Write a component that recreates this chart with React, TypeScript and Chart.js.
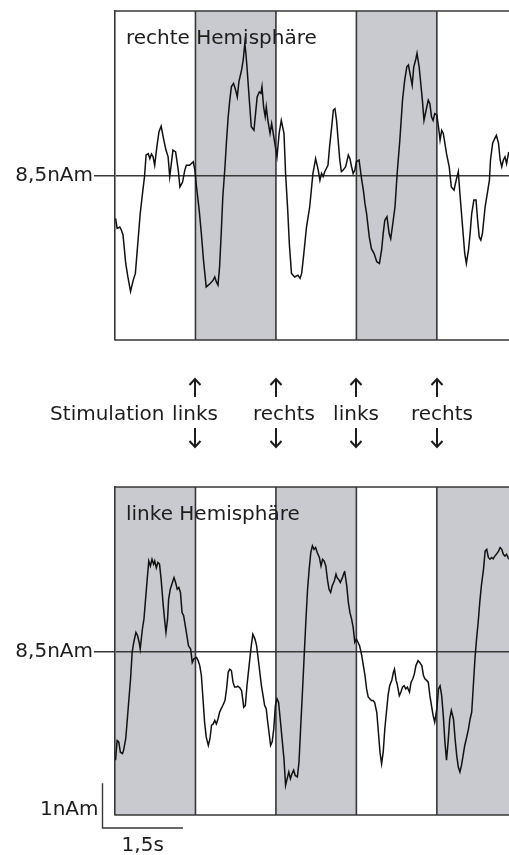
import { useEffect, useRef } from 'react';
import { Chart, registerables } from 'chart.js';

Chart.register(...registerables);

// Dipole strength over time (s) in the right hemisphere (nAm)
const rightTime = [
  0.01, 0.04, 0.09, 0.12, 0.15, 0.20, 0.24, 0.29, 0.34, 0.38,
  0.43, 0.47, 0.52, 0.55, 0.58, 0.62, 0.65, 0.68, 0.71, 0.74,
  0.78, 0.82, 0.86, 0.91, 0.95, 0.99, 1.02, 1.05, 1.08, 1.13,
  1.18, 1.21, 1.26, 1.30, 1.33, 1.39, 1.46, 1.49, 1.52, 1.57,
  1.61, 1.65, 1.70, 1.77, 1.83, 1.86, 1.89, 1.92, 1.95, 1.98,
  2.01, 2.05, 2.08, 2.11, 2.14, 2.17, 2.21, 2.25, 2.28, 2.31,
  2.36, 2.39, 2.42, 2.44, 2.46, 2.50, 2.54, 2.59, 2.62, 2.65,
  2.69, 2.72, 2.74, 2.77, 2.80, 2.82, 2.85, 2.89, 2.92, 2.95,
  2.99, 3.02, 3.06, 3.10, 3.15, 3.18, 3.22, 3.25, 3.29, 3.35,
  3.41, 3.45, 3.48, 3.52, 3.57, 3.63, 3.69, 3.74, 3.79, 3.82,
  3.85, 3.88, 3.91, 3.94, 3.97, 4.00, 4.04, 4.07, 4.10, 4.13,
  4.16, 4.19, 4.22, 4.25, 4.30, 4.35, 4.38, 4.41, 4.44, 4.47,
  4.50, 4.55, 4.60, 4.63, 4.66, 4.69, 4.74, 4.78, 4.83, 4.88,
  4.93, 4.97, 5.00, 5.03, 5.07, 5.11, 5.14, 5.17, 5.22, 5.26,
  5.31, 5.36, 5.40, 5.44, 5.47, 5.51, 5.54, 5.57, 5.61, 5.63,
  5.67, 5.70, 5.73, 5.76, 5.80, 5.84, 5.87, 5.90, 5.93, 5.96,
  6.00, 6.03, 6.06, 6.09, 6.12, 6.15, 6.18, 6.23, 6.27, 6.32,
  6.36, 6.40, 6.43, 6.48, 6.52, 6.55, 6.59, 6.62, 6.65, 6.69,
  6.73, 6.76, 6.79, 6.82, 6.85, 6.90, 6.94, 6.98, 7.00, 7.04,
  7.08, 7.11, 7.15, 7.18, 7.21, 7.24, 7.27, 7.30, 7.34,
];
const rightAmp = [
  7.56, 7.34, 7.37, 7.30, 7.19, 6.56, 6.26, 5.94, 6.19, 6.34,
  7.08, 7.67, 8.19, 8.49, 8.97, 9.00, 8.89, 8.99, 8.93, 8.74,
  9.15, 9.49, 9.61, 9.30, 9.08, 8.93, 8.49, 8.78, 9.08, 9.04,
  8.63, 8.26, 8.37, 8.63, 8.74, 8.74, 8.82, 8.63, 8.26, 7.74,
  7.22, 6.63, 6.04, 6.11, 6.19, 6.26, 6.15, 6.08, 6.49, 7.23,
  8.04, 8.71, 9.30, 9.82, 10.19, 10.49, 10.56, 10.41, 10.26, 10.60,
  10.86, 11.08, 11.45, 11.23, 10.93, 10.26, 9.60, 9.52, 9.89, 10.26,
  10.37, 10.34, 10.49, 10.04, 9.82, 10.04, 9.74, 9.45, 9.67, 9.45,
  9.15, 8.93, 9.45, 9.74, 9.45, 8.56, 7.74, 7.00, 6.34, 6.26,
  6.30, 6.23, 6.34, 6.78, 7.37, 7.82, 8.56, 8.89, 8.63, 8.41,
  8.56, 8.49, 8.60, 8.67, 8.74, 9.15, 9.60, 9.97, 10.00, 9.74,
  9.30, 8.86, 8.60, 8.63, 8.71, 8.97, 8.89, 8.71, 8.56, 8.63,
  8.82, 8.86, 8.41, 8.19, 7.89, 7.67, 7.15, 6.89, 6.78, 6.60,
  6.56, 6.86, 7.23, 7.52, 7.60, 7.23, 7.11, 7.37, 7.82, 8.56,
  9.30, 10.19, 10.63, 10.93, 10.97, 10.71, 10.52, 10.93, 11.11, 11.23,
  10.93, 10.56, 10.19, 9.74, 9.97, 10.19, 10.11, 9.82, 9.74, 9.89,
  9.86, 9.60, 9.30, 9.52, 9.45, 9.23, 9.00, 8.71, 8.26, 8.19,
  8.41, 8.60, 8.11, 7.37, 6.78, 6.56, 6.86, 7.23, 7.67, 7.97,
  7.97, 7.52, 7.15, 7.08, 7.23, 7.82, 8.11, 8.41, 8.86, 9.23,
  9.34, 9.41, 9.23, 8.86, 8.71, 8.86, 8.93, 8.78, 9.04,
];

// Dipole strength over time (s) in the left hemisphere (nAm)
const leftTime = [
  0.01, 0.04, 0.07, 0.10, 0.14, 0.16, 0.20, 0.23, 0.26, 0.29,
  0.32, 0.35, 0.39, 0.42, 0.45, 0.47, 0.51, 0.54, 0.57, 0.60,
  0.63, 0.66, 0.69, 0.72, 0.74, 0.77, 0.80, 0.83, 0.86, 0.90,
  0.93, 0.95, 0.98, 1.00, 1.03, 1.07, 1.10, 1.13, 1.16, 1.19,
  1.22, 1.25, 1.28, 1.31, 1.34, 1.37, 1.41, 1.44, 1.47, 1.52,
  1.55, 1.58, 1.61, 1.64, 1.67, 1.70, 1.74, 1.77, 1.80, 1.83,
  1.86, 1.89, 1.92, 1.95, 1.98, 2.01, 2.05, 2.08, 2.11, 2.14,
  2.17, 2.20, 2.23, 2.26, 2.29, 2.33, 2.36, 2.38, 2.40, 2.43,
  2.46, 2.50, 2.54, 2.57, 2.61, 2.64, 2.67, 2.70, 2.73, 2.76,
  2.79, 2.82, 2.84, 2.87, 2.90, 2.93, 2.96, 2.99, 3.02, 3.05,
  3.08, 3.12, 3.15, 3.18, 3.21, 3.24, 3.27, 3.30, 3.33, 3.36,
  3.40, 3.43, 3.46, 3.50, 3.53, 3.56, 3.59, 3.62, 3.65, 3.68,
  3.71, 3.74, 3.77, 3.81, 3.84, 3.87, 3.90, 3.93, 3.96, 3.99,
  4.02, 4.05, 4.09, 4.12, 4.14, 4.17, 4.20, 4.24, 4.27, 4.28,
  4.32, 4.35, 4.38, 4.41, 4.44, 4.47, 4.50, 4.53, 4.56, 4.60,
  4.63, 4.66, 4.69, 4.72, 4.75, 4.78, 4.81, 4.84, 4.88, 4.91,
  4.94, 4.97, 5.00, 5.03, 5.06, 5.09, 5.12, 5.16, 5.19, 5.21,
  5.24, 5.26, 5.30, 5.33, 5.36, 5.39, 5.42, 5.45, 5.49, 5.52,
  5.55, 5.58, 5.61, 5.65, 5.68, 5.72, 5.75, 5.78, 5.81, 5.84,
  5.87, 5.90, 5.93, 5.96, 6.00, 6.03, 6.06, 6.09, 6.12, 6.15,
  6.18, 6.21, 6.24, 6.27, 6.31, 6.34, 6.37, 6.40, 6.43, 6.46,
  6.49, 6.52, 6.55, 6.59, 6.62, 6.65, 6.68, 6.71, 6.74, 6.77,
  6.80, 6.83, 6.87, 6.90, 6.93, 6.96, 6.99, 7.02, 7.05, 7.08,
  7.11, 7.15, 7.18, 7.21, 7.24, 7.27, 7.30, 7.34,
];
const leftAmp = [
  6.08, 6.52, 6.49, 6.26, 6.23, 6.30, 6.56, 7.00, 7.45, 7.89,
  8.49, 8.71, 8.93, 8.86, 8.71, 8.56, 9.00, 9.23, 9.67, 10.11,
  10.52, 10.41, 10.56, 10.45, 10.52, 10.37, 10.49, 10.45, 10.11, 9.52,
  9.15, 8.93, 9.23, 9.67, 9.89, 10.04, 10.15, 10.04, 9.89, 9.93,
  9.82, 9.37, 9.30, 9.08, 8.86, 8.63, 8.56, 8.26, 8.34, 8.37,
  8.30, 8.19, 7.97, 7.45, 6.93, 6.60, 6.41, 6.56, 6.86, 6.89,
  6.97, 6.89, 7.00, 7.15, 7.23, 7.30, 7.41, 7.67, 8.04, 8.11,
  8.08, 7.82, 7.71, 7.71, 7.73, 7.69, 7.63, 7.45, 7.26, 7.30,
  7.74, 8.19, 8.63, 8.89, 8.78, 8.63, 8.34, 8.04, 7.74, 7.52,
  7.30, 7.23, 7.00, 6.71, 6.41, 6.49, 6.78, 7.30, 7.45, 7.37,
  7.00, 6.49, 6.11, 5.52, 5.67, 5.82, 5.67, 5.78, 5.86, 5.74,
  5.71, 6.04, 6.78, 7.74, 8.49, 9.23, 9.89, 10.34, 10.71, 10.86,
  10.78, 10.82, 10.71, 10.60, 10.41, 10.56, 10.52, 10.41, 10.11, 9.89,
  9.82, 9.97, 10.08, 10.23, 10.15, 10.11, 10.04, 10.15, 10.26, 10.30,
  9.97, 9.60, 9.37, 9.23, 9.04, 8.71, 8.78, 8.71, 8.63, 8.41,
  8.19, 7.97, 7.67, 7.49, 7.45, 7.41, 7.41, 7.37, 7.15, 6.71,
  6.26, 6.00, 6.26, 6.78, 7.15, 7.52, 7.74, 7.86, 8.04, 8.11,
  7.86, 7.78, 7.52, 7.60, 7.71, 7.74, 7.67, 7.71, 7.60, 7.82,
  7.89, 8.00, 8.19, 8.30, 8.26, 8.19, 7.97, 7.89, 7.86, 7.82,
  7.52, 7.30, 7.08, 6.93, 7.23, 7.67, 7.74, 7.52, 7.08, 6.49,
  6.08, 6.49, 7.00, 7.19, 7.00, 6.56, 6.19, 5.93, 5.82, 5.97,
  6.19, 6.41, 6.56, 6.78, 7.00, 7.15, 7.74, 8.34, 8.78, 9.15,
  9.60, 9.97, 10.34, 10.74, 10.78, 10.60, 10.56, 10.60, 10.57, 10.63,
  10.67, 10.74, 10.82, 10.78, 10.67, 10.63, 10.67, 10.56,
];

// Stimulation blocks (start, end in s) shaded in each panel
const rightShaded = [[1.5, 3.0], [4.5, 6.0]];
const leftShaded = [[0, 1.5], [3.0, 4.5], [6.0, 7.5]];

// Stimulus changes and the stimulated side
const stimTimes = [1.5, 3.0, 4.5, 6.0];
const stimSides = ['links', 'rechts', 'links', 'rechts'];

const panelTitles = ['rechte Hemisphäre', 'linke Hemisphäre'];
const refLevel = 8.5;
const refLabel = '8,5nAm';
const ampRange = [4.86, 12.17];
const timeRange = [0, 7.345];
const scaleBarAmp = 1;
const scaleBarTime = 1.5;
const scaleBarLabels = ['1nAm', '1,5s'];

const FONT = "'DejaVu Sans', sans-serif";
const INK = '#1d1d1d';
const FRAME = '#383838';
const SHADE = '#c9cacf';
const TRACE = '#111111';

type Draw = (chart: Chart) => void;

function panelPlugin(title: string, shaded: number[][], extra?: Draw) {
  return {
    id: 'panelDecor',
    beforeDraw(chart: Chart) {
      const { ctx, chartArea: a } = chart;
      const x = chart.scales.x;
      ctx.save();
      ctx.fillStyle = SHADE;
      for (const [s, e] of shaded) {
        const x0 = Math.max(a.left, x.getPixelForValue(s));
        const x1 = Math.min(a.right, x.getPixelForValue(e));
        if (x1 > x0) ctx.fillRect(x0, a.top, x1 - x0, a.bottom - a.top);
      }
      ctx.restore();
    },
    beforeDatasetsDraw(chart: Chart) {
      const { ctx, chartArea: a } = chart;
      const x = chart.scales.x;
      ctx.save();
      ctx.strokeStyle = FRAME;
      ctx.lineWidth = 1.6;
      ctx.beginPath();
      const edges = new Set<number>();
      shaded.forEach(([s, e]) => { edges.add(s); edges.add(e); });
      edges.forEach((t) => {
        const px = x.getPixelForValue(t);
        if (px > a.left + 2 && px < a.right - 1) {
          ctx.moveTo(px, a.top);
          ctx.lineTo(px, a.bottom);
        }
      });
      ctx.moveTo(a.left, a.top);
      ctx.lineTo(a.right, a.top);
      ctx.moveTo(a.left, a.bottom);
      ctx.lineTo(a.right, a.bottom);
      ctx.stroke();
      ctx.restore();
    },
    afterDatasetsDraw(chart: Chart) {
      const { ctx, chartArea: a } = chart;
      ctx.save();
      ctx.fillStyle = INK;
      ctx.font = `20px ${FONT}`;
      ctx.textAlign = 'left';
      ctx.textBaseline = 'alphabetic';
      ctx.fillText(title, a.left + 11, a.top + 33);
      ctx.restore();
    },
    afterDraw(chart: Chart) {
      if (extra) extra(chart);
    },
  };
}

// Arrows and side labels between the two panels
const drawStimuli: Draw = (chart) => {
  const { ctx } = chart;
  const x = chart.scales.x;
  const labelShift = [0, 8, 0, 5];
  ctx.save();
  ctx.strokeStyle = INK;
  ctx.fillStyle = INK;
  ctx.lineWidth = 2;
  ctx.lineCap = 'butt';
  ctx.font = `20px ${FONT}`;
  ctx.textBaseline = 'alphabetic';
  const first = x.getPixelForValue(stimTimes[0]);
  ctx.textAlign = 'right';
  ctx.fillText('Stimulation', first - 31, 420);
  stimTimes.forEach((t, i) => {
    const px = Math.round(x.getPixelForValue(t));
    ctx.beginPath();
    ctx.moveTo(px, 397);
    ctx.lineTo(px, 379);
    ctx.moveTo(px - 5.5, 385);
    ctx.lineTo(px, 379);
    ctx.lineTo(px + 5.5, 385);
    ctx.moveTo(px, 428);
    ctx.lineTo(px, 447);
    ctx.moveTo(px - 5.5, 441);
    ctx.lineTo(px, 447);
    ctx.lineTo(px + 5.5, 441);
    ctx.stroke();
    ctx.textAlign = 'center';
    ctx.fillText(stimSides[i], px + labelShift[i], 420);
  });
  ctx.restore();
};

// Calibration bar below the lower panel
const drawScaleBar: Draw = (chart) => {
  const { ctx, chartArea: a } = chart;
  const x = chart.scales.x;
  const y = chart.scales.y;
  const w = x.getPixelForValue(scaleBarTime) - x.getPixelForValue(0);
  const h = y.getPixelForValue(ampRange[0]) - y.getPixelForValue(ampRange[0] + scaleBarAmp);
  const x0 = a.left - 12.5;
  const yb = a.bottom + 13;
  ctx.save();
  ctx.strokeStyle = FRAME;
  ctx.lineWidth = 1.4;
  ctx.beginPath();
  ctx.moveTo(x0, yb - h);
  ctx.lineTo(x0, yb);
  ctx.lineTo(x0 + w, yb);
  ctx.stroke();
  ctx.fillStyle = INK;
  ctx.font = `20px ${FONT}`;
  ctx.textBaseline = 'alphabetic';
  ctx.textAlign = 'right';
  ctx.fillText(scaleBarLabels[0], x0 - 4, yb - 13);
  ctx.textAlign = 'center';
  ctx.fillText(scaleBarLabels[1], x0 + w / 2, yb + 23);
  ctx.restore();
};

function panelConfig(
  time: number[],
  amp: number[],
  shaded: number[][],
  title: string,
  padding: { top: number; bottom: number },
  extra?: Draw,
): any {
  return {
    type: 'line',
    data: {
      datasets: [
        {
          data: time.map((t, i) => ({ x: t, y: amp[i] })),
          borderColor: TRACE,
          borderWidth: 1.5,
          pointRadius: 0,
          tension: 0,
          fill: false,
        },
      ],
    },
    options: {
      responsive: false,
      animation: false,
      devicePixelRatio: 1,
      events: [],
      layout: { padding: { left: 0, right: 0, top: padding.top, bottom: padding.bottom } },
      plugins: { legend: { display: false }, tooltip: { enabled: false } },
      scales: {
        x: { type: 'linear', min: timeRange[0], max: timeRange[1], display: false },
        y: {
          type: 'linear',
          position: 'left',
          min: ampRange[0],
          max: ampRange[1],
          afterBuildTicks: (s: any) => {
            s.ticks = [{ value: refLevel }];
          },
          afterFit: (s: any) => {
            s.width = 115;
            s.paddingTop = 0;
            s.paddingBottom = 0;
          },
          ticks: {
            callback: () => refLabel,
            font: { family: FONT, size: 20 },
            color: INK,
            padding: 1,
          },
          grid: {
            color: FRAME,
            lineWidth: 1.5,
            tickLength: 21,
            drawOnChartArea: true,
            drawTicks: true,
          },
          border: { display: true, color: FRAME, width: 1.6 },
        },
      },
    },
    plugins: [panelPlugin(title, shaded, extra)],
  };
}

export default function App() {
  const topRef = useRef<HTMLCanvasElement>(null);
  const bottomRef = useRef<HTMLCanvasElement>(null);

  useEffect(() => {
    const top = new Chart(
      topRef.current!,
      panelConfig(rightTime, rightAmp, rightShaded, panelTitles[0], { top: 11, bottom: 130 }, drawStimuli),
    );
    const bottom = new Chart(
      bottomRef.current!,
      panelConfig(leftTime, leftAmp, leftShaded, panelTitles[1], { top: 17, bottom: 40 }, drawScaleBar),
    );
    return () => {
      top.destroy();
      bottom.destroy();
    };
  }, []);

  return (
    <div style={{ position: 'absolute', left: 0, top: 0, width: 509, height: 855, overflow: 'hidden', background: '#fff' }}>
      <canvas
        ref={topRef}
        width={509}
        height={470}
        style={{ position: 'absolute', left: 0, top: 0, width: 509, height: 470, display: 'block' }}
      />
      <canvas
        ref={bottomRef}
        width={509}
        height={385}
        style={{ position: 'absolute', left: 0, top: 470, width: 509, height: 385, display: 'block' }}
      />
    </div>
  );
}
